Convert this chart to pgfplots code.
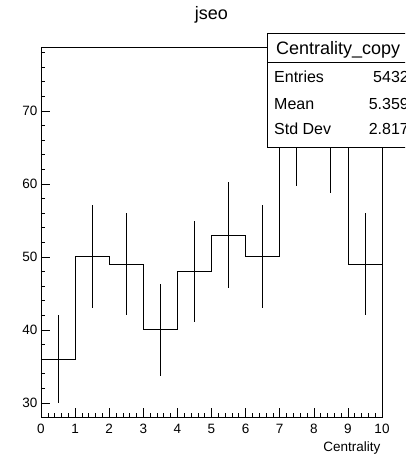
\documentclass[border=0pt]{standalone}
\usepackage{fontspec}
\setmainfont{Liberation Sans}
\usepackage{pgfplots}
\pgfplotsset{compat=1.18}
\begin{document}
\begin{tikzpicture}
% page = 405x455 px, axis box from (41,47) to (382,417) px
\path[use as bounding box, clip] (-41pt,-38pt) rectangle (364pt,417pt);
\begin{axis}[
  at={(0,0)}, anchor=south west, scale only axis,
  width=341pt, height=370pt,
  xmin=0, xmax=10, ymin=28.06, ymax=78.75,
  axis line style={line width=0.8pt},
  xtick={0,...,10}, ytick={20,30,...,80},
  minor x tick num=4, minor y tick num=4,
  tick align=inside, xtick pos=bottom, ytick pos=left,
  major tick length=9pt, minor tick length=4.5pt,
  tick style={black, line width=0.6pt},
  /pgf/number format/assume math mode=true,
  ticklabel style={font=\fontsize{13.5}{15}\selectfont},
  xticklabel style={yshift=-4pt},
  title={jseo}, xlabel={Centrality},
  every axis title/.style={at={(0.5,1)}, anchor=south, yshift=20pt, font=\fontsize{18}{20}\selectfont},
  every axis x label/.style={at={(1,0)}, anchor=north east, xshift=2pt, yshift=-21pt, font=\fontsize{13.5}{15}\selectfont},
]
% histogram contents
\addplot[const plot mark left, black, line width=0.8pt, mark=none]
  coordinates {(0,36)(1,50)(2,49)(3,40)(4,48)(5,53)(6,50)(7,68)(8,67)(9,49)(10,49)};
% sqrt(N) errors at bin centres
\addplot[draw=none, mark=none, forget plot,
  error bars/.cd, y dir=both, y explicit, error mark=none,
  error bar style={black, line width=0.8pt}]
  coordinates {
  (0.5,36) +- (0,6)
  (1.5,50) +- (0,7.07)
  (2.5,49) +- (0,7)
  (3.5,40) +- (0,6.32)
  (4.5,48) +- (0,6.93)
  (5.5,53) +- (0,7.28)
  (6.5,50) +- (0,7.07)
  (7.5,68) +- (0,8.25)
  (8.5,67) +- (0,8.19)
  (9.5,49) +- (0,7)
  };
\end{axis}
% stats box
\draw[line width=0.8pt, fill=white] (226pt,270pt) rectangle (420pt,384pt);
\draw[line width=0.8pt] (226pt,355pt) -- (420pt,355pt);
\node[anchor=base west, inner sep=0pt, font=\fontsize{18}{20}\selectfont] at (235pt,362pt) {Centrality\_copy};
\begin{scope}[every node/.style={inner sep=0pt, font=\fontsize{16}{18}\selectfont}]
\node[anchor=base west] at (233pt,334pt) {Entries};
\node[anchor=base east] at (368pt,334pt) {5432};
\node[anchor=base west] at (233pt,307.5pt) {Mean};
\node[anchor=base east] at (368pt,307.5pt) {5.359};
\node[anchor=base west] at (233pt,282pt) {Std Dev};
\node[anchor=base east] at (368pt,282pt) {2.817};
\end{scope}
\end{tikzpicture}
\end{document}
